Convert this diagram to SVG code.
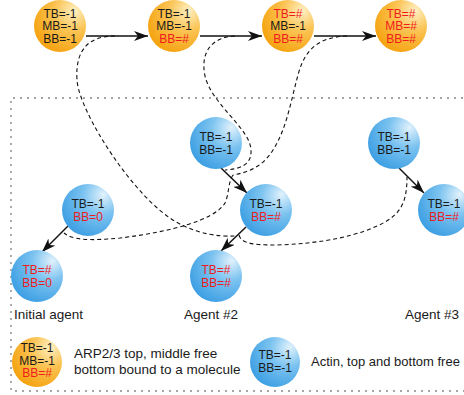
<svg xmlns="http://www.w3.org/2000/svg" width="464" height="395" viewBox="0 0 464 395">
<defs>
<radialGradient id="gO" cx="0.72" cy="0.28" r="0.8" fx="0.78" fy="0.2">
<stop offset="0" stop-color="#fdf0c4"/>
<stop offset="0.45" stop-color="#fbc454"/>
<stop offset="1" stop-color="#f5a20f"/>
</radialGradient>
<radialGradient id="gB" cx="0.72" cy="0.28" r="0.8" fx="0.8" fy="0.2">
<stop offset="0" stop-color="#e2f2fc"/>
<stop offset="0.45" stop-color="#7cc3f0"/>
<stop offset="1" stop-color="#3d9fe3"/>
</radialGradient>
<marker id="ah" viewBox="0 0 14 10" refX="14" refY="5" markerWidth="14" markerHeight="10" markerUnits="userSpaceOnUse" orient="auto">
<path d="M0,0 L14,5 L0,10 L4,5 z" fill="#111"/>
</marker>
<style>
.o{fill:url(#gO)}
.b{fill:url(#gB)}
text{font-family:"Liberation Sans",Arial,sans-serif;font-size:12px;fill:#1a1a1a;text-anchor:middle}
text.r{fill:#f01c1c}
text.lab{font-size:13.5px;text-anchor:start}
.arr{stroke:#111;stroke-width:1.5;fill:none;marker-end:url(#ah)}
.dash{stroke:#111;stroke-width:1.1;fill:none;stroke-dasharray:4,3}
.box{stroke:#888;stroke-width:1.4;fill:none;stroke-dasharray:2,5}
</style>
</defs>
<path class="box" d="M470,98 H11 V391 H470"/>

<g id="connectors">
<line class="arr" x1="86" y1="36" x2="148" y2="36"/>
<line class="arr" x1="200" y1="36" x2="262" y2="36"/>
<line class="arr" x1="314" y1="36" x2="376" y2="36"/>
<line class="arr" x1="68" y1="226" x2="42" y2="252"/>
<line class="arr" x1="221" y1="168" x2="247" y2="193"/>
<line class="arr" x1="246" y1="227" x2="221" y2="251"/>
<line class="arr" x1="399" y1="168" x2="424" y2="193"/>
<path class="dash" d="M115,36 C90,36 75,48 77,80 C79,112 135,200 178,223 C198,234 220,237 235,236"/>
<path class="dash" d="M235,36 C212,37 200,52 205,76 C212,105 250,128 251,150 C252,165 240,169 225,170"/>
<path class="dash" d="M347,36 C320,37 305,48 298,75 C291,100 287,128 273,150 C263,166 250,172 233,175"/>
<path class="dash" d="M233,175 C228,182 229,195 225,203 C215,220 170,232 120,238 C90,241 72,240 64,233"/>
<path class="dash" d="M239,235 C241,243 252,245 275,245 C320,244 360,236 385,222 C403,212 407,198 407,177"/>
</g>

<g id="arp1"><circle class="o" cx="60" cy="26" r="26"/>
<text x="60" y="17.8">TB=-1</text><text x="60" y="30.3">MB=-1</text><text x="60" y="42.8">BB=-1</text></g>
<g id="arp2"><circle class="o" cx="174" cy="26" r="26"/>
<text x="174" y="17.8">TB=-1</text><text x="174" y="30.3">MB=-1</text><text class="r" x="174" y="42.8">BB=#</text></g>
<g id="arp3"><circle class="o" cx="288" cy="26" r="26"/>
<text class="r" x="288" y="17.8">TB=#</text><text x="288" y="30.3">MB=-1</text><text class="r" x="288" y="42.8">BB=#</text></g>
<g id="arp4"><circle class="o" cx="401" cy="26" r="26"/>
<text class="r" x="401" y="17.8">TB=#</text><text class="r" x="401" y="30.3">MB=#</text><text class="r" x="401" y="42.8">BB=#</text></g>

<g id="init1"><circle class="b" cx="88" cy="210" r="26"/>
<text x="88" y="207.8">TB=-1</text><text class="r" x="88" y="220.8">BB=0</text></g>
<g id="init2"><circle class="b" cx="37" cy="276" r="26"/>
<text class="r" x="37" y="273.8">TB=#</text><text class="r" x="37" y="286.8">BB=0</text></g>

<g id="a2top"><circle class="b" cx="216" cy="143" r="26"/>
<text x="216" y="140.8">TB=-1</text><text x="216" y="153.8">BB=-1</text></g>
<g id="a2mid"><circle class="b" cx="266" cy="210" r="26"/>
<text x="266" y="207.8">TB=-1</text><text class="r" x="266" y="220.8">BB=#</text></g>
<g id="a2bot"><circle class="b" cx="216" cy="276" r="26"/>
<text class="r" x="216" y="273.8">TB=#</text><text class="r" x="216" y="286.8">BB=#</text></g>

<g id="a3top"><circle class="b" cx="394" cy="143" r="26"/>
<text x="394" y="140.8">TB=-1</text><text x="394" y="153.8">BB=-1</text></g>
<g id="a3mid"><circle class="b" cx="444" cy="210" r="26"/>
<text x="444" y="207.8">TB=-1</text><text class="r" x="444" y="220.8">BB=#</text></g>

<g id="labels">
<text class="lab" x="14" y="319">Initial agent</text>
<text class="lab" x="184" y="319">Agent #2</text>
<text class="lab" x="405" y="319">Agent #3</text>
</g>

<g id="legend-arp"><circle class="o" cx="37" cy="362" r="25"/>
<text x="37" y="352.3">TB=-1</text><text x="37" y="364.8">MB=-1</text><text class="r" x="37" y="377.3">BB=#</text>
<text class="lab" x="74" y="358">ARP2/3 top, middle free</text>
<text class="lab" x="74" y="374">bottom bound to a molecule</text></g>
<g id="legend-actin"><circle class="b" cx="275" cy="362" r="25"/>
<text x="275" y="359.3">TB=-1</text><text x="275" y="372.3">BB=-1</text>
<text class="lab" x="311" y="366" style="font-size:13px">Actin, top and bottom free</text></g>
</svg>
